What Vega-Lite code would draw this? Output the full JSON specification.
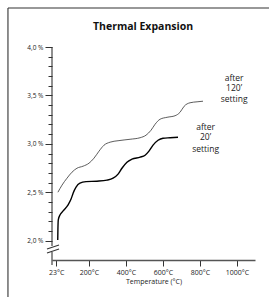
{
  "$schema": "https://vega.github.io/schema/vega-lite/v6.json",
  "width": 203,
  "height": 213,
  "autosize": "none",
  "padding": {"left": 52, "top": 47, "right": 14, "bottom": 37},
  "background": "white",
  "config": {"view": {"stroke": null}, "font": "Open Sans", "axis": {"labelFont": "Open Sans", "titleFont": "Open Sans"}},
  "datasets": {
    "curves": [
      {"series": "after 120' setting", "temp": 32, "exp": 2.5},
      {"series": "after 120' setting", "temp": 54, "exp": 2.573},
      {"series": "after 120' setting", "temp": 81, "exp": 2.645},
      {"series": "after 120' setting", "temp": 108, "exp": 2.707},
      {"series": "after 120' setting", "temp": 135, "exp": 2.748},
      {"series": "after 120' setting", "temp": 168, "exp": 2.769},
      {"series": "after 120' setting", "temp": 200, "exp": 2.8},
      {"series": "after 120' setting", "temp": 227, "exp": 2.852},
      {"series": "after 120' setting", "temp": 254, "exp": 2.924},
      {"series": "after 120' setting", "temp": 281, "exp": 2.986},
      {"series": "after 120' setting", "temp": 314, "exp": 3.017},
      {"series": "after 120' setting", "temp": 357, "exp": 3.032},
      {"series": "after 120' setting", "temp": 422, "exp": 3.047},
      {"series": "after 120' setting", "temp": 476, "exp": 3.063},
      {"series": "after 120' setting", "temp": 508, "exp": 3.089},
      {"series": "after 120' setting", "temp": 535, "exp": 3.14},
      {"series": "after 120' setting", "temp": 557, "exp": 3.202},
      {"series": "after 120' setting", "temp": 584, "exp": 3.254},
      {"series": "after 120' setting", "temp": 622, "exp": 3.274},
      {"series": "after 120' setting", "temp": 665, "exp": 3.29},
      {"series": "after 120' setting", "temp": 692, "exp": 3.326},
      {"series": "after 120' setting", "temp": 714, "exp": 3.388},
      {"series": "after 120' setting", "temp": 746, "exp": 3.424},
      {"series": "after 120' setting", "temp": 784, "exp": 3.434},
      {"series": "after 120' setting", "temp": 816, "exp": 3.44},
      {"series": "after 20' setting", "temp": 31, "exp": 2.006},
      {"series": "after 20' setting", "temp": 32, "exp": 2.12},
      {"series": "after 20' setting", "temp": 34, "exp": 2.215},
      {"series": "after 20' setting", "temp": 43, "exp": 2.264},
      {"series": "after 20' setting", "temp": 59, "exp": 2.305},
      {"series": "after 20' setting", "temp": 86, "exp": 2.367},
      {"series": "after 20' setting", "temp": 103, "exp": 2.429},
      {"series": "after 20' setting", "temp": 114, "exp": 2.49},
      {"series": "after 20' setting", "temp": 130, "exp": 2.553},
      {"series": "after 20' setting", "temp": 151, "exp": 2.594},
      {"series": "after 20' setting", "temp": 184, "exp": 2.609},
      {"series": "after 20' setting", "temp": 243, "exp": 2.614},
      {"series": "after 20' setting", "temp": 297, "exp": 2.625},
      {"series": "after 20' setting", "temp": 330, "exp": 2.645},
      {"series": "after 20' setting", "temp": 357, "exp": 2.687},
      {"series": "after 20' setting", "temp": 378, "exp": 2.748},
      {"series": "after 20' setting", "temp": 405, "exp": 2.81},
      {"series": "after 20' setting", "temp": 432, "exp": 2.841},
      {"series": "after 20' setting", "temp": 476, "exp": 2.862},
      {"series": "after 20' setting", "temp": 503, "exp": 2.882},
      {"series": "after 20' setting", "temp": 524, "exp": 2.924},
      {"series": "after 20' setting", "temp": 546, "exp": 2.986},
      {"series": "after 20' setting", "temp": 573, "exp": 3.037},
      {"series": "after 20' setting", "temp": 600, "exp": 3.058},
      {"series": "after 20' setting", "temp": 638, "exp": 3.063},
      {"series": "after 20' setting", "temp": 681, "exp": 3.068}
    ],
    "labels": [
      {"temp": 984, "exp": 3.683, "text": "after"},
      {"temp": 984, "exp": 3.574, "text": "120’"},
      {"temp": 984, "exp": 3.46, "text": "setting"},
      {"temp": 830, "exp": 3.177, "text": "after"},
      {"temp": 830, "exp": 3.068, "text": "20’"},
      {"temp": 830, "exp": 2.944, "text": "setting"}
    ],
    "titles": [
      {"temp": 492, "exp": 4.205, "text": "Thermal Expansion"}
    ],
    "segments": [
      {"part": "frame", "x": -238, "y": 4.403, "x2": 1400, "y2": 4.403},
      {"part": "frame", "x": -238, "y": 4.403, "x2": -238, "y2": 1.38},
      {"part": "axis", "x": 0, "y": 4.0, "x2": 0, "y2": 1.944},
      {"part": "axis", "x": 0, "y": 1.882, "x2": 0, "y2": 1.748},
      {"part": "break", "x": -27, "y": 1.913, "x2": 38, "y2": 1.955},
      {"part": "break", "x": -27, "y": 1.872, "x2": 38, "y2": 1.913}
    ]
  },
  "layer": [
    {
      "data": {"name": "curves"},
      "transform": [{"filter": "datum.series === \"after 120' setting\""}],
      "mark": {"type": "line", "interpolate": "monotone", "color": "#333", "strokeWidth": 0.8},
      "encoding": {
        "x": {"field": "temp", "type": "quantitative",
          "scale": {"domain": [0, 1097], "nice": false, "zero": false},
          "axis": {"values": [23, 200, 400, 600, 800, 1000], "labelExpr": "datum.value + '°C'", "title": "Temperature (°C)",
            "tickSize": 6, "tickColor": "#333", "tickWidth": 1, "domainColor": "#555", "domainWidth": 1.5, "grid": false,
            "labelFontSize": 7, "labelColor": "#222", "labelPadding": 2, "titleFontSize": 7, "titleFontWeight": "normal", "titleColor": "#222", "titlePadding": 2}},
        "y": {"field": "exp", "type": "quantitative",
          "scale": {"domain": [1.8, 4.0], "nice": false, "zero": false},
          "axis": {"orient": "left", "values": [2.0, 2.5, 3.0, 3.5, 4.0], "labelExpr": "replace(format(datum.value, '.1f'), '.', ',') + ' %'",
            "tickSize": 7, "tickColor": "#333", "tickWidth": 1, "domain": false, "grid": false, "title": null,
            "labelFontSize": 6.5, "labelColor": "#222", "labelPadding": 2}}
      }
    },
    {
      "data": {"name": "curves"},
      "transform": [{"filter": "datum.series === \"after 20' setting\""}],
      "mark": {"type": "line", "interpolate": "monotone", "color": "#000", "strokeWidth": 1.4},
      "encoding": {
        "x": {"field": "temp", "type": "quantitative"},
        "y": {"field": "exp", "type": "quantitative",
          "axis": {"orient": "left", "values": [2.1, 2.2, 2.3, 2.4, 2.6, 2.7, 2.8, 2.9, 3.1, 3.2, 3.3, 3.4, 3.6, 3.7, 3.8, 3.9],
            "labels": false, "tickSize": 4, "tickColor": "#333", "tickWidth": 1, "domain": false, "grid": false, "title": null}}
      }
    },
    {
      "data": {"name": "segments"},
      "mark": {"type": "rule", "color": "#333", "strokeWidth": 1.1},
      "encoding": {
        "x": {"field": "x", "type": "quantitative"},
        "x2": {"field": "x2"},
        "y": {"field": "y", "type": "quantitative", "axis": null},
        "y2": {"field": "y2"}
      }
    },
    {
      "data": {"name": "labels"},
      "mark": {"type": "text", "align": "center", "baseline": "middle", "fontSize": 8.5, "color": "#222", "font": "Open Sans"},
      "encoding": {
        "x": {"field": "temp", "type": "quantitative"},
        "y": {"field": "exp", "type": "quantitative", "axis": null},
        "text": {"field": "text"}
      }
    },
    {
      "data": {"name": "titles"},
      "mark": {"type": "text", "align": "center", "baseline": "middle", "fontSize": 10.5, "fontWeight": "bold", "color": "#111", "font": "Open Sans"},
      "encoding": {
        "x": {"field": "temp", "type": "quantitative"},
        "y": {"field": "exp", "type": "quantitative", "axis": null},
        "text": {"field": "text"}
      }
    }
  ],
  "resolve": {"axis": {"y": "independent"}}
}
